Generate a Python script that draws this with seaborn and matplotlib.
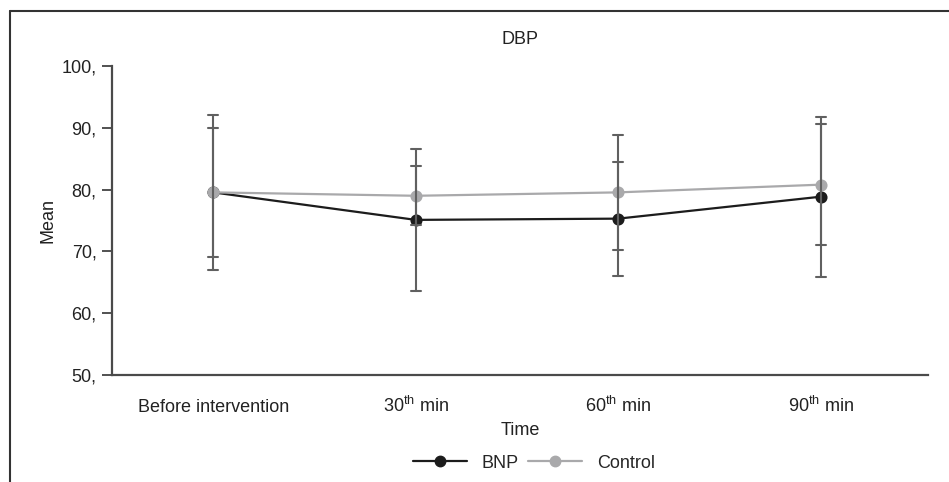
import matplotlib
matplotlib.use("Agg")
import matplotlib.pyplot as plt
from matplotlib.lines import Line2D
import seaborn as sns
import pandas as pd

times = ["Before intervention", "30$^{\\rm th}$ min", "60$^{\\rm th}$ min", "90$^{\\rm th}$ min"]
bnp_mean = [79.55, 75.1, 75.3, 78.85]
bnp_sd = [12.55, 11.5, 9.2, 12.95]
control_mean = [79.55, 79.0, 79.55, 80.8]
control_sd = [10.45, 4.8, 9.25, 9.8]
y_ticks = [50, 60, 70, 80, 90, 100]
y_tick_labels = ["50,", "60,", "70,", "80,", "90,", "100,"]

rows = []
for grp, means, sds in [("BNP", bnp_mean, bnp_sd), ("Control", control_mean, control_sd)]:
    for t, m, s in zip(times, means, sds):
        for v in (m - s, m, m + s):
            rows.append({"Time": t, "Group": grp, "Mean": v})
df = pd.DataFrame(rows)

sns.set_theme(style="white")
plt.rcParams["font.family"] = ["Liberation Sans", "DejaVu Sans"]
plt.rcParams["mathtext.fontset"] = "custom"
plt.rcParams["mathtext.rm"] = "Liberation Sans"

fig = plt.figure(figsize=(9.49, 4.82), dpi=100)
ax = fig.add_axes([112 / 949, 1 - 375 / 482, (928 - 112) / 949, (375 - 66) / 482])

palette = {"BNP": "#1c1c1c", "Control": "#a9a9ab"}
sns.pointplot(data=df, x="Time", y="Mean", hue="Group", order=times,
              hue_order=["BNP", "Control"], palette=palette,
              estimator="mean", errorbar=("pi", 100), capsize=0.05,
              markers="o", linestyles="-", dodge=False,
              markersize=7.5, linewidth=1.6,
              err_kws={"color": "#606060", "linewidth": 1.5},
              ax=ax, legend=False)

ax.set_ylim(50, 100)
ax.set_xlim(-0.5, 3.53)
ax.set_yticks(y_ticks)
ax.set_yticklabels(y_tick_labels)
ax.yaxis.get_major_ticks()[0].tick1line.set_visible(False)
ax.tick_params(axis="y", which="major", left=True, length=7, width=1.2,
               color="#333333", labelsize=13, labelcolor="#222222", pad=4)
ax.tick_params(axis="x", which="major", bottom=False, labelsize=13,
               labelcolor="#222222", pad=21)
for lbl in ax.get_xticklabels():
    lbl.set_va("baseline")
sns.despine(ax=ax, top=True, right=True)
for sp in ["left", "bottom"]:
    ax.spines[sp].set_color("#4a4a4a")
    ax.spines[sp].set_linewidth(1.6)

ax.set_xlabel("Time", fontsize=13, color="#222222", labelpad=4)
ax.set_ylabel("Mean", fontsize=13, color="#222222", labelpad=4)

fig.text(520 / 949, 1 - 40 / 482, "DBP", ha="center", va="center",
         fontsize=13, color="#222222")

handles = [Line2D([], [], color=palette["BNP"], marker="o", markersize=7.5, linewidth=1.6),
           Line2D([], [], color=palette["Control"], marker="o", markersize=7.5, linewidth=1.6)]
fig.legend(handles, ["BNP", "Control"], loc="center", ncol=2,
           bbox_to_anchor=(534 / 949, 1 - 463 / 482), frameon=False,
           fontsize=13, handlelength=3.0, columnspacing=0.5, handletextpad=0.8)

fig.add_artist(Line2D([9.5 / 949, 9.5 / 949], [0, 1 - 10.5 / 482],
                      transform=fig.transFigure, color="#333333", linewidth=1.5))
fig.add_artist(Line2D([9.5 / 949, 1], [1 - 10.5 / 482, 1 - 10.5 / 482],
                      transform=fig.transFigure, color="#333333", linewidth=1.5))

fig.savefig("out.png", dpi=100)
